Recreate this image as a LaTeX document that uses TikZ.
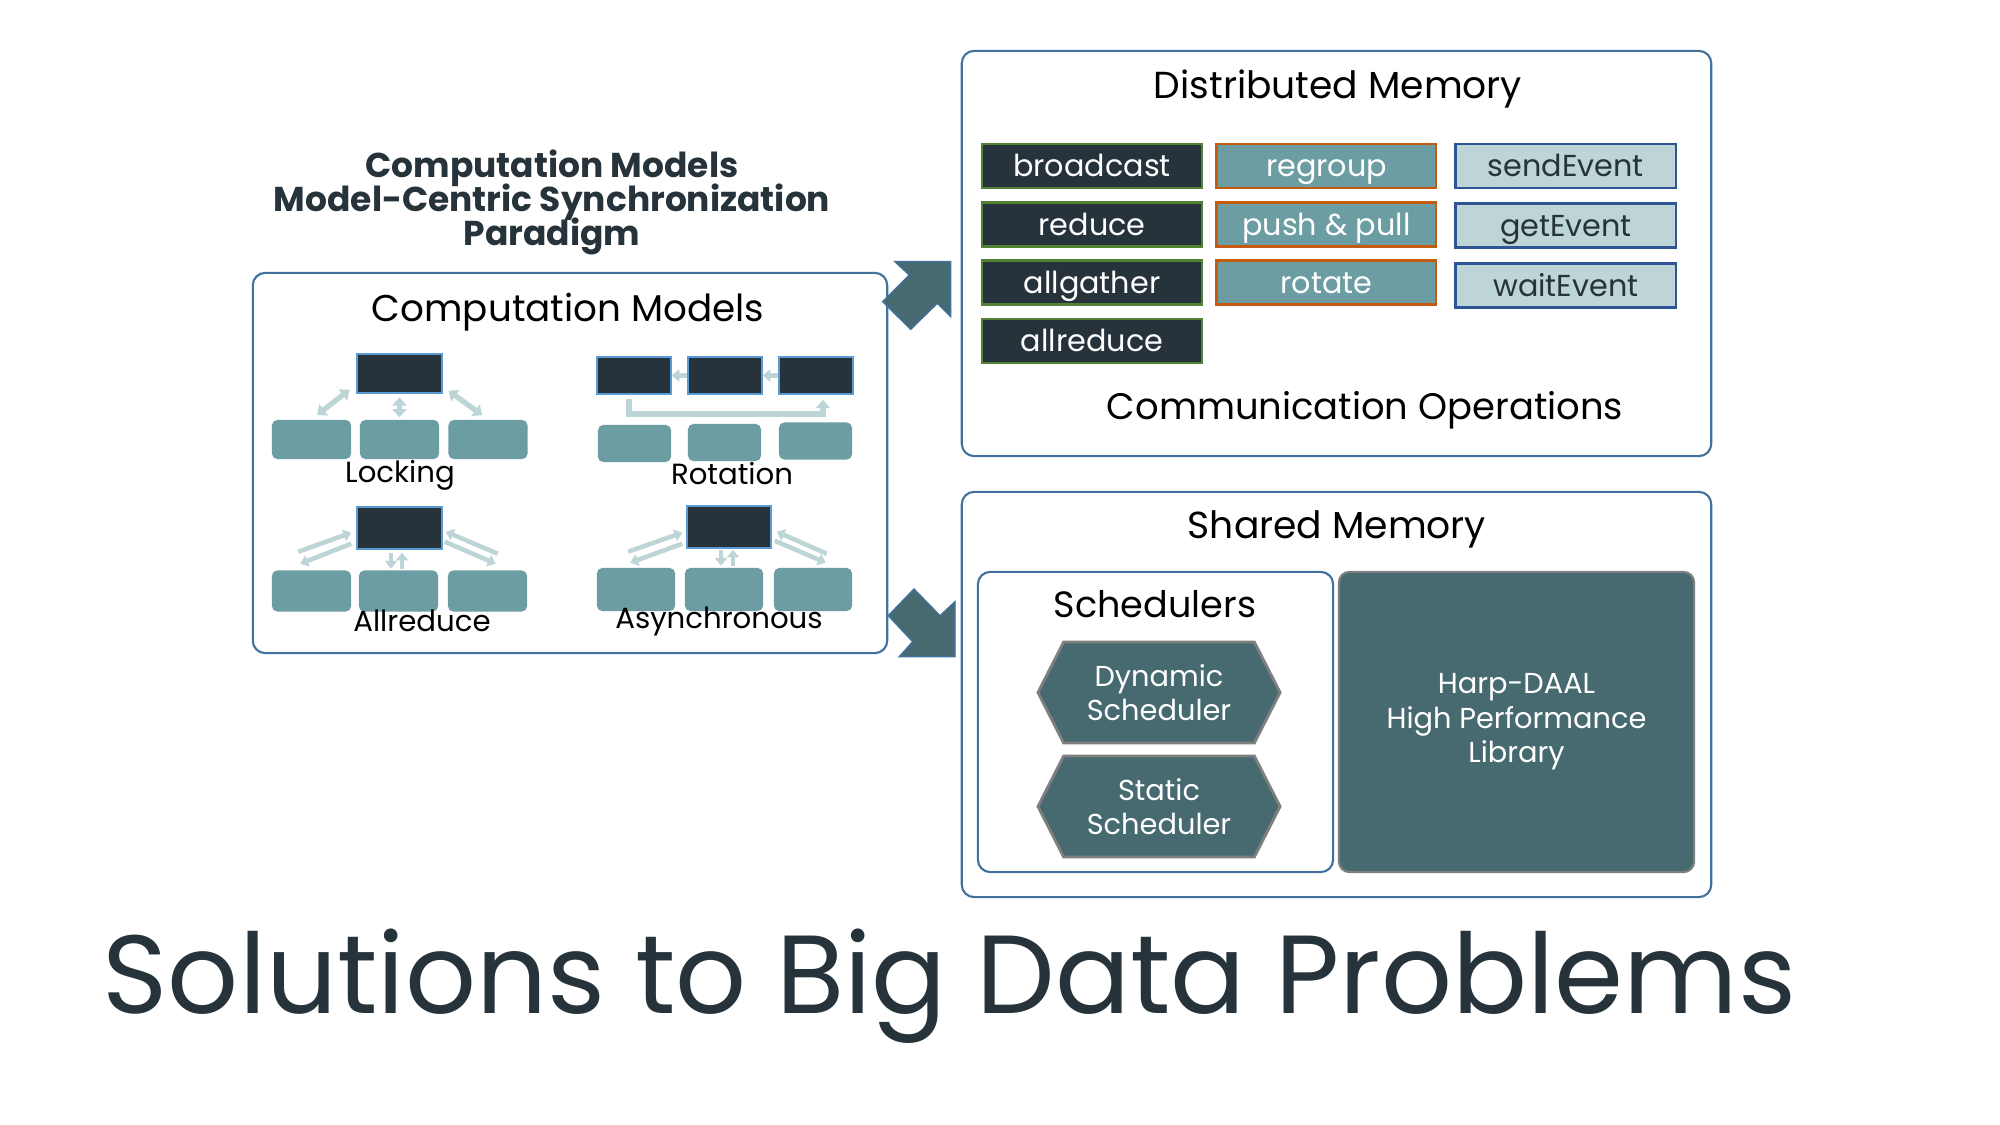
\documentclass[tikz,border=0pt]{standalone}
\usepackage{fontspec}
\setmainfont{Poppins}
\usepackage{xcolor}
\definecolor{inkDark}{HTML}{27333A}
\definecolor{tealMid}{HTML}{6C9DA3}
\definecolor{tealLight}{HTML}{BDD5D7}
\definecolor{arrowLight}{HTML}{BED5D7}
\definecolor{slateBox}{HTML}{476A70}
\definecolor{frameBlue}{HTML}{41719C}
\definecolor{edgeGreen}{HTML}{548235}
\definecolor{edgeOrange}{HTML}{C55A11}
\definecolor{edgeBlue}{HTML}{2F5597}
\definecolor{edgeGrey}{HTML}{7F7F7F}
\definecolor{edgeSky}{HTML}{5B9BD5}
\usetikzlibrary{positioning,calc,arrows.meta,shapes.symbols}
\lineskiplimit=-\maxdimen
\tikzset{%
  frameBox/.style={%
    rectangle,
    rounded corners=3.5pt,
    draw=frameBlue,
    line width=0.6pt,
    fill=white
  },
  frameTitle/.style={%
    font=\fontsize{10.7}{12}\selectfont,
    text=black,
    inner sep=0pt
  },
  headText/.style={%
    font=\fontsize{9.8}{9.8}\selectfont\bfseries,
    text=inkDark,
    align=center,
    inner sep=0pt
  },
  modelLabel/.style={%
    font=\fontsize{8.3}{9}\selectfont,
    text=black,
    inner sep=0pt
  },
  modelBox/.style={%
    rectangle,
    draw=edgeSky,
    line width=0.4pt,
    fill=inkDark,
    minimum width=0.85cm,
    minimum height=0.41cm
  },
  workerBox/.style={%
    rectangle,
    rounded corners=1.5pt,
    fill=tealMid,
    minimum width=0.79cm,
    minimum height=0.41cm
  },
  lightArrow/.style={%
    draw=arrowLight,
    line width=1.3pt
  },
  opBox/.style={%
    rectangle,
    line width=0.8pt,
    minimum width=2.2cm,
    minimum height=0.44cm,
    inner sep=0pt,
    text height=8pt,
    text depth=1.8pt,
    font=\fontsize{8.6}{10}\selectfont
  },
  opDark/.style={opBox, fill=inkDark, draw=edgeGreen, text=white},
  opTeal/.style={opBox, fill=tealMid, draw=edgeOrange, text=white},
  opLight/.style={opBox, fill=tealLight, draw=edgeBlue, text=inkDark},
  schedHex/.style={%
    signal,
    signal to=east and west,
    signal pointer angle=126,
    fill=slateBox,
    draw=edgeGrey,
    line width=0.8pt,
    minimum width=2.42cm,
    minimum height=1.01cm,
    inner sep=0pt,
    align=center,
    text=white,
    font=\fontsize{8.2}{9.8}\selectfont
  },
  harpBox/.style={%
    rectangle,
    rounded corners=3pt,
    fill=slateBox,
    draw=edgeGrey,
    line width=0.6pt,
    align=center,
    text=white,
    font=\fontsize{8.2}{9.8}\selectfont
  },
  bigArrow/.style={%
    fill=slateBox,
    draw=frameBlue,
    line width=0.4pt
  }
}
\begin{document}
\begin{tikzpicture}[x=0.01cm, y=-0.01cm]
  \useasboundingbox (0,0) rectangle (2000,1125);
  \fill[white] (0,0) rectangle (2000,1125);

  % heading and frame on the left
  \node[headText, anchor=base] (heading) at (552,246) {Computation Models\\Model-Centric Synchronization\\Paradigm};
  \node[frameBox, minimum width=6.34cm, minimum height=3.8cm] (compFrame) at (570,463) {};
  \node[frameTitle, font=\fontsize{10.6}{12}\selectfont, anchor=base] (compTitle) at (568,322) {Computation Models};

  % locking
  \node[modelBox, minimum height=0.39cm] (lockTop) at (399.5,373.5) {};
  \node[workerBox, minimum height=0.39cm] (lockL) at (311.5,439.5) {};
  \node[workerBox, minimum height=0.39cm] (lockM) at (399.5,439.5) {};
  \node[workerBox, minimum height=0.39cm] (lockR) at (488,439.5) {};
  \draw[lightArrow, line width=1.5pt, {Triangle[length=2.4pt,width=4pt]}-{Triangle[length=2.4pt,width=4pt]}, shorten <=1pt, shorten >=2pt] ($(lockTop.south west)+(-4,-6)$) -- (lockL.north);
  \draw[lightArrow, line width=1.5pt, {Triangle[length=2.4pt,width=4pt]}-{Triangle[length=2.4pt,width=4pt]}, shorten <=1pt, shorten >=0.5pt] (lockTop.south) -- (lockM.north);
  \draw[lightArrow, line width=1.5pt, {Triangle[length=2.4pt,width=4pt]}-{Triangle[length=2.4pt,width=4pt]}, shorten <=1pt, shorten >=2pt] ($(lockTop.south east)+(3,-5)$) -- (lockR.north);
  \node[modelLabel, anchor=base] (lockLabel) at (400,483) {Locking};

  % rotation
  \node[modelBox, minimum width=0.74cm, minimum height=0.37cm] (rotA) at (634,375.5) {};
  \node[modelBox, minimum width=0.74cm, minimum height=0.37cm] (rotB) at (725,375.5) {};
  \node[modelBox, minimum width=0.74cm, minimum height=0.37cm] (rotC) at (816,375.5) {};
  \node[workerBox, minimum width=0.73cm, minimum height=0.37cm] (rotWA) at (634.5,443.5) {};
  \node[workerBox, minimum width=0.73cm, minimum height=0.37cm] (rotWB) at (724.5,442.5) {};
  \node[workerBox, minimum width=0.73cm, minimum height=0.37cm] (rotWC) at (815.5,441) {};
  \draw[lightArrow, -{Triangle[length=2.2pt,width=3.6pt]}] (rotB) -- (rotA);
  \draw[lightArrow, -{Triangle[length=2.2pt,width=3.6pt]}] (rotC) -- (rotB);
  \draw[lightArrow, line width=1.6pt, -{Triangle[length=2.4pt,width=4pt]}] ($(rotA.south)+(-5,4)$) -- ++(0,15) -| ($(rotC.south)+(7,5)$);
  \node[modelLabel, anchor=base] (rotLabel) at (732,485) {Rotation};

  % allreduce
  \node[modelBox, minimum height=0.42cm] (allTop) at (399.5,528) {};
  \node[workerBox] (allL) at (311.5,591) {};
  \node[workerBox] (allM) at (398.5,591) {};
  \node[workerBox] (allR) at (487.5,591) {};
  \draw[lightArrow, -{Triangle[length=2.2pt,width=3.4pt]}] ($(allTop.south west)+(-58,2)$) -- ($(allTop.south west)+(-5,-17)$);
  \draw[lightArrow, -{Triangle[length=2.2pt,width=3.4pt]}] ($(allTop.south west)+(-5,-6)$) -- ($(allTop.south west)+(-56,14)$);
  \draw[lightArrow, -{Triangle[length=2.2pt,width=3.4pt]}] ($(allTop.south)+(-8.5,3)$) -- ($(allTop.south)+(-8.5,19)$);
  \draw[lightArrow, -{Triangle[length=2.2pt,width=3.4pt]}] ($(allTop.south)+(2.5,19)$) -- ($(allTop.south)+(2.5,3)$);
  \draw[lightArrow, -{Triangle[length=2.2pt,width=3.4pt]}] ($(allTop.south east)+(55,4)$) -- ($(allTop.south east)+(3,-18)$);
  \draw[lightArrow, -{Triangle[length=2.2pt,width=3.4pt]}] ($(allTop.south east)+(2,-8)$) -- ($(allTop.south east)+(53,14)$);
  \node[modelLabel, anchor=base] (allLabel) at (422,632) {Allreduce};

  % asynchronous
  \node[modelBox, minimum width=0.84cm, minimum height=0.42cm] (asyTop) at (729,527) {};
  \node[workerBox, minimum width=0.78cm, minimum height=0.43cm] (asyL) at (636,589.5) {};
  \node[workerBox, minimum width=0.78cm, minimum height=0.43cm] (asyM) at (724,589.5) {};
  \node[workerBox, minimum width=0.78cm, minimum height=0.43cm] (asyR) at (813,589.5) {};
  \draw[lightArrow, -{Triangle[length=2.2pt,width=3.4pt]}] ($(asyTop.south west)+(-58,3)$) -- ($(asyTop.south west)+(-4,-16)$);
  \draw[lightArrow, -{Triangle[length=2.2pt,width=3.4pt]}] ($(asyTop.south west)+(-4,-5)$) -- ($(asyTop.south west)+(-56,14)$);
  \draw[lightArrow, -{Triangle[length=2.2pt,width=3.4pt]}] ($(asyTop.south)+(-8,1)$) -- ($(asyTop.south)+(-8,17)$);
  \draw[lightArrow, -{Triangle[length=2.2pt,width=3.4pt]}] ($(asyTop.south)+(4,17)$) -- ($(asyTop.south)+(4,1)$);
  \draw[lightArrow, -{Triangle[length=2.2pt,width=3.4pt]}] ($(asyTop.south east)+(55,5)$) -- ($(asyTop.south east)+(5,-17)$);
  \draw[lightArrow, -{Triangle[length=2.2pt,width=3.4pt]}] ($(asyTop.south east)+(3,-8)$) -- ($(asyTop.south east)+(54,14)$);
  \node[modelLabel, anchor=base] (asyLabel) at (719,629) {Asynchronous};

  % block arrows
  \draw[bigArrow] (950.7,261.7) -- (950.7,316.7) -- (937.3,303.3) -- (910.7,329.3) -- (882.7,301.7) -- (909.3,275) -- (895,261.7) -- cycle;
  \draw[bigArrow] (955,656.7) -- (899.3,656.7) -- (912.7,641.7) -- (888.3,615.7) -- (914,589) -- (940,615.7) -- (955,601.7) -- cycle;

  % distributed memory
  \node[frameBox, minimum width=7.49cm, minimum height=4.05cm] (distFrame) at (1336.5,253.5) {};
  \node[frameTitle, anchor=base] (distTitle) at (1338,99) {Distributed Memory};
  \node[opDark] (bcast) at (1092,166) {broadcast};
  \node[opDark, below=0.115cm of bcast] (reduce) {reduce};
  \node[opDark, below=0.115cm of reduce] (allgather) {allgather};
  \node[opDark, below=0.115cm of allgather] (allreduce) {allreduce};
  \node[opTeal, right=0.12cm of bcast, minimum width=2.19cm] (regroup) {regroup};
  \node[opTeal, below=0.115cm of regroup, minimum width=2.19cm] (pushpull) {push \& pull};
  \node[opTeal, below=0.115cm of pushpull, minimum width=2.19cm] (rotate) {rotate};
  \node[opLight, right=0.17cm of regroup] (sendEvent) {sendEvent};
  \node[opLight, below=0.13cm of sendEvent] (getEvent) {getEvent};
  \node[opLight, below=0.13cm of getEvent] (waitEvent) {waitEvent};
  \node[frameTitle, font=\fontsize{10.5}{12}\selectfont, anchor=base] (commTitle) at (1365,420) {Communication Operations};

  % shared memory
  \node[frameBox, minimum width=7.49cm, minimum height=4.05cm] (sharedFrame) at (1336.5,694.5) {};
  \node[frameTitle, anchor=base] (sharedTitle) at (1337,539) {Shared Memory};
  \node[frameBox, minimum width=3.55cm, minimum height=3cm] (schedFrame) at (1155.5,722) {};
  \node[frameTitle, font=\fontsize{10.4}{12}\selectfont, anchor=base] (schedTitle) at (1155,618) {Schedulers};
  \node[schedHex] (dynSched) at (1159,692.5) {Dynamic\\Scheduler};
  \node[schedHex] (statSched) at (1159,806.5) {Static\\Scheduler};
  \node[harpBox, minimum width=3.55cm, minimum height=3cm] (harp) at (1516.5,722) {Harp-DAAL\\High Performance\\Library};

  % slide title
  \node[font=\fontsize{31.6}{36}\selectfont, text=inkDark, inner sep=0pt, anchor=base] (slideTitle) at (949.5,1013) {Solutions to Big Data Problems};
\end{tikzpicture}
\end{document}
